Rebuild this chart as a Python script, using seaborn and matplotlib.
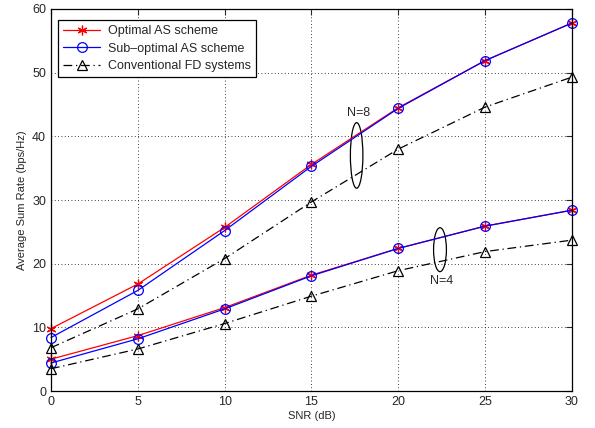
import numpy as np
import pandas as pd
import seaborn as sns
import matplotlib.pyplot as plt
from matplotlib.patches import Ellipse

snr = [0, 5, 10, 15, 20, 25, 30]

opt_n8 = [9.8, 16.8, 25.7, 35.6, 44.5, 51.9, 57.8]
sub_n8 = [8.4, 15.8, 25.2, 35.3, 44.4, 51.9, 57.8]
conv_n8 = [6.8, 12.9, 20.8, 29.7, 38.0, 44.6, 49.3]

opt_n4 = [5.0, 8.7, 13.1, 18.2, 22.4, 25.9, 28.4]
sub_n4 = [4.4, 8.2, 12.9, 18.1, 22.4, 25.9, 28.4]
conv_n4 = [3.5, 6.6, 10.6, 14.9, 18.9, 21.9, 23.7]

labels = ['Optimal AS scheme', 'Sub\u2013optimal AS scheme', 'Conventional FD systems']

sns.set_style('white')
plt.rcParams['font.family'] = ['Liberation Sans', 'DejaVu Sans']

fig = plt.figure(figsize=(5.95, 4.28), dpi=100)
ax = fig.add_axes([0.0857, 0.0864, 0.8756, 0.8926])

styles = [
    dict(color='red', marker=(6, 2, 0), face='red', size=7, dashes=None),
    dict(color='blue', marker='o', face='none', size=7, dashes=None),
    dict(color='black', marker='^', face='none', size=7, dashes=(7, 3, 1, 3)),
]

groups = [(opt_n8, opt_n4), (sub_n8, sub_n4), (conv_n8, conv_n4)]
for i, (ys8, ys4) in enumerate(groups):
    st = styles[i]
    for j, ys in enumerate([ys8, ys4]):
        sns.lineplot(x=snr, y=ys, ax=ax, color=st['color'], linewidth=0.9,
                     label=labels[i] if j == 0 else None)
        l = ax.lines[-1]
        l.set_marker(st['marker'])
        l.set_markersize(st['size'])
        l.set_markerfacecolor(st['face'])
        l.set_markeredgecolor(st['color'])
        l.set_markeredgewidth(0.9)
        l.set_clip_on(False)
        if st['dashes'] is not None:
            l.set_dashes(st['dashes'])

# ellipses marking the groups
ax.add_patch(Ellipse((17.6, 37.0), 0.72, 10.3, fill=False, edgecolor='black', linewidth=0.9))
ax.add_patch(Ellipse((22.4, 22.2), 0.74, 6.9, fill=False, edgecolor='black', linewidth=0.9))
ax.text(17.7, 43.6, 'N=8', ha='center', va='center', fontsize=9)
ax.text(22.5, 17.3, 'N=4', ha='center', va='center', fontsize=9)

ax.set_xlim(0, 30)
ax.set_ylim(0, 60)
ax.set_xticks(range(0, 31, 5))
ax.set_yticks(range(0, 61, 10))
ax.set_xlabel('SNR (dB)', fontsize=8, labelpad=2)
ax.set_ylabel('Average Sum Rate (bps/Hz)', fontsize=8, labelpad=4)
ax.tick_params(direction='in', top=True, right=True, length=4, labelsize=9, width=0.8)
ax.grid(True, linestyle=(0, (1, 3)), color='black', linewidth=0.6)
for s in ax.spines.values():
    s.set_color('black')
    s.set_linewidth(0.9)

leg = ax.legend(loc='upper left', bbox_to_anchor=(7 / 521, 1 - 11 / 382), borderaxespad=0,
                fontsize=9, frameon=True, fancybox=False, edgecolor='black', framealpha=1,
                handlelength=3.0, labelspacing=0.45, borderpad=0.4, handletextpad=0.6)
leg.get_frame().set_linewidth(0.9)

fig.savefig('out.png', dpi=100)
